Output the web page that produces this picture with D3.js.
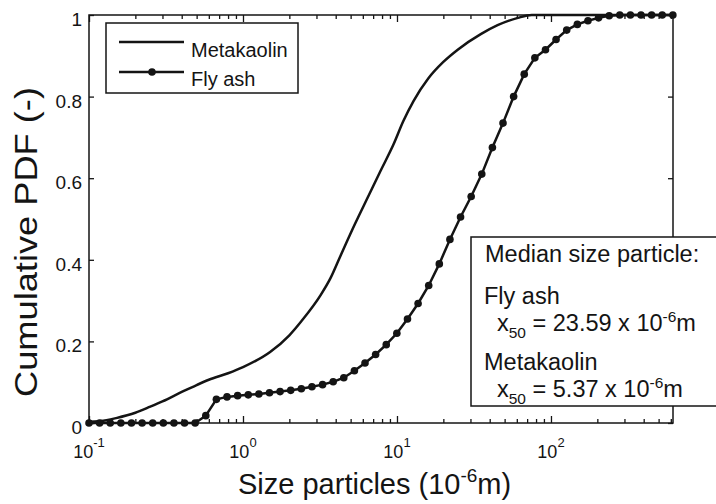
<!DOCTYPE html>
<html><head><meta charset="utf-8">
<script src="https://cdn.jsdelivr.net/npm/d3@7"></script>
<style>
body{margin:0;background:#fff}
svg{display:block}
text{font-family:"Liberation Sans",Arial,Helvetica,sans-serif;fill:#141414}
</style>
</head><body>
<svg id="c" width="716" height="504"></svg>
<script>
// ---- data ----
const metakaolinX = [0.1, 0.13, 0.15, 0.2, 0.25, 0.3, 0.4, 0.5, 0.6, 0.8, 1.0, 1.5, 2.0, 2.4, 3.2, 3.7, 4.3, 5.37, 6.5, 7.8, 9.5, 11, 12.8, 16, 20, 24.8, 35, 45, 61, 75, 620];
const metakaolinY = [0.003, 0.007, 0.012, 0.025, 0.04, 0.053, 0.076, 0.093, 0.106, 0.122, 0.137, 0.174, 0.215, 0.25, 0.314, 0.355, 0.41, 0.49, 0.555, 0.617, 0.683, 0.74, 0.789, 0.845, 0.885, 0.915, 0.953, 0.975, 0.993, 1, 1];

const flyAshX = [0.1, 0.1172, 0.1374, 0.161, 0.1887, 0.2212, 0.2592, 0.3038, 0.3561, 0.4173, 0.4891, 0.5733, 0.6719, 0.7874, 0.9229, 1.082, 1.268, 1.486, 1.741, 2.041, 2.392, 2.803, 3.286, 3.851, 4.513, 5.29, 6.2, 7.266, 8.516, 9.981, 11.7, 13.71, 16.07, 18.83, 22.07, 25.87, 30.32, 35.53, 41.65, 48.81, 57.21, 67.05, 78.58, 92.1, 107.9, 126.5, 148.3, 173.8, 203.7, 238.7, 279.8, 327.9, 384.3, 450.4, 527.9, 618.7];
const flyAshY = [0, 0, 0, 0, 0, 0, 0, 0, 0, 0, 0, 0.018, 0.058, 0.064, 0.067, 0.069, 0.071, 0.074, 0.077, 0.08, 0.084, 0.089, 0.094, 0.101, 0.111, 0.128, 0.147, 0.168, 0.192, 0.22, 0.255, 0.293, 0.337, 0.39, 0.45, 0.505, 0.555, 0.61, 0.675, 0.735, 0.8, 0.855, 0.895, 0.915, 0.94, 0.963, 0.977, 0.986, 0.993, 0.998, 1, 1, 1, 1, 1, 1];

const yTicks = [0, 0.2, 0.4, 0.6, 0.8, 1];
const yTickLabels = ["0", "0.2", "0.4", "0.6", "0.8", "1"];
const xMajorTicks = [0.1, 1, 10, 100];
const xTickExponents = ["-1", "0", "1", "2"];
const xMinorTicks = [0.2,0.3,0.4,0.5,0.6,0.7,0.8,0.9,2,3,4,5,6,7,8,9,20,30,40,50,60,70,80,90,200,300,400,500,600];

const seriesNames = ["Metakaolin", "Fly ash"];
const medianTitle = "Median size particle:";
const medianValues = ["23.59", "5.37"];
const medianNames = ["Fly ash", "Metakaolin"];

// ---- layout ----
const svg = d3.select('#c');
const P = {left: 89, right: 673, top: 15, bottom: 423};
const x = d3.scaleLog().domain([0.1, 620]).range([P.left, P.right]);
const y = d3.scaleLinear().domain([0, 1]).range([P.bottom, P.top]);
const ink = '#141414';

// axes
function styleAxis(g){
  g.select('.domain').remove();
  g.selectAll('.tick line').attr('stroke', ink).attr('stroke-width', 1.3);
}
svg.append('g').attr('transform', `translate(0,${P.bottom})`)
  .call(d3.axisBottom(x).tickValues(xMajorTicks).tickSize(-7).tickFormat(''))
  .call(styleAxis);
svg.append('g').attr('transform', `translate(0,${P.bottom})`)
  .call(d3.axisBottom(x).tickValues(xMinorTicks).tickSize(-4).tickFormat(''))
  .call(styleAxis);
svg.append('g').attr('transform', `translate(0,${P.top})`)
  .call(d3.axisTop(x).tickValues(xMajorTicks).tickSize(-7).tickFormat(''))
  .call(styleAxis);
svg.append('g').attr('transform', `translate(0,${P.top})`)
  .call(d3.axisTop(x).tickValues(xMinorTicks).tickSize(-4).tickFormat(''))
  .call(styleAxis);
const yAxisG = svg.append('g').attr('transform', `translate(${P.left},0)`)
  .call(d3.axisLeft(y).tickValues(yTicks).tickSize(-5).tickPadding(7)
    .tickFormat((d,i) => yTickLabels[i]))
  .call(styleAxis);
yAxisG.selectAll('text').attr('font-size', 19).attr('dy', '0.55em')
  .style('font-family', '"Liberation Sans",Arial,sans-serif').attr('fill', ink);
svg.append('g').attr('transform', `translate(${P.right},0)`)
  .call(d3.axisRight(y).tickValues(yTicks).tickSize(-5).tickFormat(''))
  .call(styleAxis);

// x tick labels 10^n
const xl = svg.append('g').selectAll('text').data(xMajorTicks).join('text')
  .attr('x', d => x(d)).attr('y', P.bottom + 35)
  .attr('text-anchor', 'middle').attr('font-size', 18);
xl.append('tspan').text('10');
xl.append('tspan').attr('font-size', 13).attr('dy', -11).text((d,i) => xTickExponents[i]);

// frame
svg.append('rect').attr('x', P.left).attr('y', P.top)
  .attr('width', P.right - P.left).attr('height', P.bottom - P.top)
  .attr('fill', 'none').attr('stroke', ink).attr('stroke-width', 1.5);

// series
const line = d3.line().x(d => x(d[0])).y(d => y(d[1])).curve(d3.curveMonotoneX);
const mk = metakaolinX.map((v,i) => [v, metakaolinY[i]]);
const fa = flyAshX.map((v,i) => [v, flyAshY[i]]);
svg.append('path').datum(mk).attr('d', line).attr('fill', 'none')
  .attr('stroke', ink).attr('stroke-width', 2.5);
svg.append('path').datum(fa).attr('d', d3.line().x(d => x(d[0])).y(d => y(d[1])))
  .attr('fill', 'none').attr('stroke', ink).attr('stroke-width', 2.5);
svg.append('g').selectAll('circle').data(fa).join('circle')
  .attr('cx', d => x(d[0])).attr('cy', d => y(d[1])).attr('r', 3.8).attr('fill', ink);

// legend
const lg = svg.append('g');
lg.append('rect').attr('x', 106).attr('y', 23).attr('width', 192).attr('height', 70)
  .attr('fill', '#fff').attr('stroke', ink).attr('stroke-width', 1.5);
lg.append('line').attr('x1', 119).attr('x2', 184).attr('y1', 42).attr('y2', 42)
  .attr('stroke', ink).attr('stroke-width', 2.5);
lg.append('line').attr('x1', 119).attr('x2', 184).attr('y1', 72).attr('y2', 72)
  .attr('stroke', ink).attr('stroke-width', 2.5);
lg.append('circle').attr('cx', 152).attr('cy', 72).attr('r', 3.8).attr('fill', ink);
lg.append('text').attr('x', 191).attr('y', 57).attr('font-size', 20).text(seriesNames[0]);
lg.append('text').attr('x', 191).attr('y', 86).attr('font-size', 20).text(seriesNames[1]);

// axis titles
svg.append('text').attr('transform', 'translate(37,242) rotate(-90)')
  .attr('text-anchor', 'middle').attr('font-size', 31)
  .attr('textLength', 310).attr('lengthAdjust', 'spacingAndGlyphs')
  .text('Cumulative PDF (-)');
const xt = svg.append('text').attr('x', 238).attr('y', 494).attr('font-size', 29);
xt.append('tspan').text('Size particles (10');
xt.append('tspan').attr('font-size', 19).attr('dy', -12).text('-6');
xt.append('tspan').attr('dy', 12).text('m)');

// median annotation box
const ab = svg.append('g');
ab.append('rect').attr('x', 471).attr('y', 237).attr('width', 260).attr('height', 169)
  .attr('fill', '#fff').attr('stroke', ink).attr('stroke-width', 1.5);
const fs = 23.5;
ab.append('text').attr('x', 485).attr('y', 262).attr('font-size', fs).text(medianTitle);
function medianBlock(name, val, y0){
  ab.append('text').attr('x', 484).attr('y', y0).attr('font-size', fs).text(name);
  const t = ab.append('text').attr('x', 497).attr('y', y0 + 27).attr('font-size', fs);
  t.append('tspan').text('x');
  t.append('tspan').attr('font-size', 15.5).attr('dy', 7).text('50');
  t.append('tspan').attr('dy', -7).text(' = ' + val + ' x 10');
  t.append('tspan').attr('font-size', 15.5).attr('dy', -9).text('-6');
  t.append('tspan').attr('dy', 9).text('m');
}
medianBlock(medianNames[0], medianValues[0], 304);
medianBlock(medianNames[1], medianValues[1], 370);
</script>
</body></html>
